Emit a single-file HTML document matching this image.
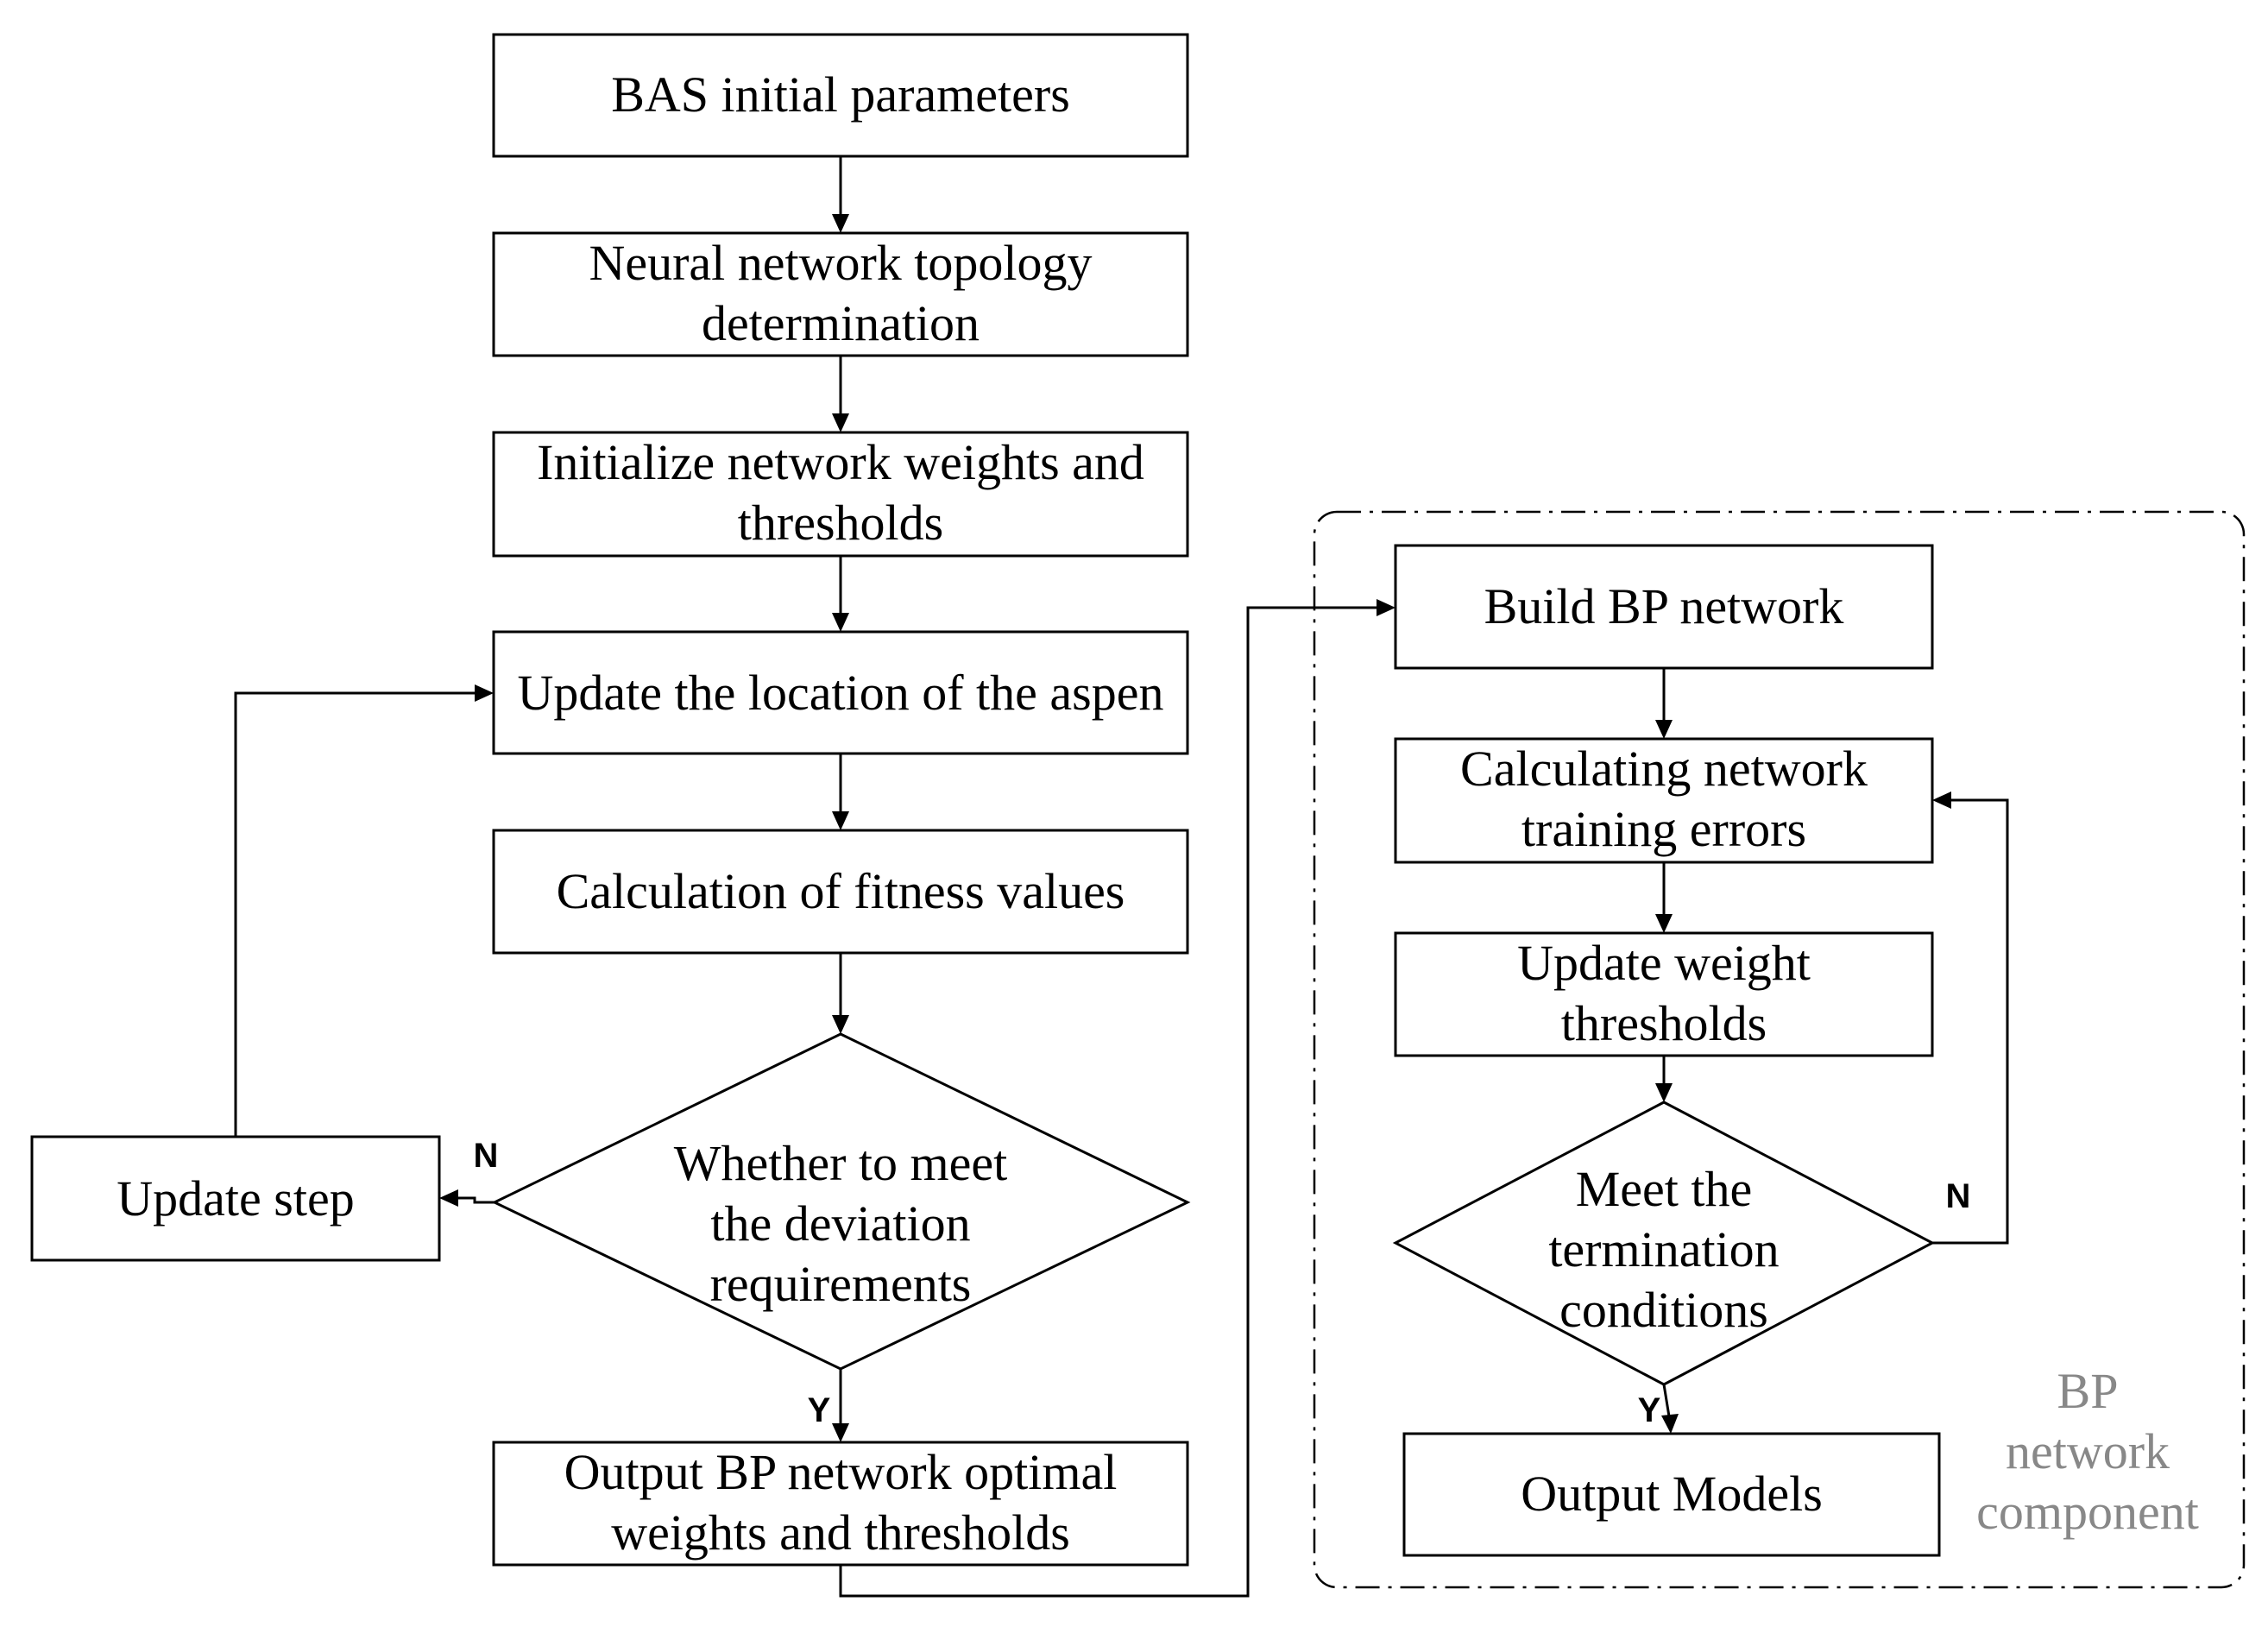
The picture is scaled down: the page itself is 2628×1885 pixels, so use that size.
<!DOCTYPE html>
<html><head><meta charset="utf-8"><style>
html,body{margin:0;padding:0;background:#fff;}
svg{display:block;}
.t{font-family:"Liberation Serif",serif;font-size:58px;fill:#000;text-anchor:middle;}
.l{font-family:"Liberation Sans",sans-serif;font-weight:bold;font-size:40px;fill:#000;text-anchor:middle;}
</style></head><body>
<svg width="2628" height="1885" viewBox="0 0 2628 1885" xmlns="http://www.w3.org/2000/svg">
<g fill="none" stroke="#000" stroke-width="3">
<rect x="572" y="40" width="804" height="141"/>
<rect x="572" y="270" width="804" height="142"/>
<rect x="572" y="501" width="804" height="143"/>
<rect x="572" y="732" width="804" height="141"/>
<rect x="572" y="962" width="804" height="142"/>
<polygon points="974,1198 1376,1393 974,1586 573,1393"/>
<rect x="37" y="1317" width="472" height="143"/>
<rect x="572" y="1671" width="804" height="142"/>
<rect x="1617" y="632" width="622" height="142"/>
<rect x="1617" y="856" width="622" height="143"/>
<rect x="1617" y="1081" width="622" height="142"/>
<polygon points="1928,1277 2239,1440 1928,1604 1617,1440"/>
<rect x="1627" y="1661" width="620" height="141"/>
<rect x="1523" y="593" width="1077" height="1246" rx="26" stroke-width="2.5" stroke-dasharray="28,10,4,10"/>
<line x1="974" y1="181" x2="974" y2="250"/>
<line x1="974" y1="412" x2="974" y2="481"/>
<line x1="974" y1="644" x2="974" y2="712"/>
<line x1="974" y1="873" x2="974" y2="942"/>
<line x1="974" y1="1104" x2="974" y2="1178"/>
<line x1="974" y1="1586" x2="974" y2="1651"/>
<polyline points="573,1393 550,1393 550,1388 530,1388"/>
<polyline points="273,1317 273,803 552,803"/>
<polyline points="974,1813 974,1849 1446,1849 1446,704 1597,704"/>
<line x1="1928" y1="774" x2="1928" y2="836"/>
<line x1="1928" y1="999" x2="1928" y2="1061"/>
<line x1="1928" y1="1223" x2="1928" y2="1257"/>
<line x1="1928" y1="1604" x2="1934" y2="1641"/>
<polyline points="2239,1440 2326,1440 2326,927 2259,927"/>
</g>
<g fill="#000">
<polygon points="974,270 964,248 984,248"/>
<polygon points="974,501 964,479 984,479"/>
<polygon points="974,732 964,710 984,710"/>
<polygon points="974,962 964,940 984,940"/>
<polygon points="974,1198 964,1176 984,1176"/>
<polygon points="974,1671 964,1649 984,1649"/>
<polygon points="509,1388 531,1378 531,1398"/>
<polygon points="572,803 550,793 550,813"/>
<polygon points="1617,704 1595,694 1595,714"/>
<polygon points="1928,856 1918,834 1938,834"/>
<polygon points="1928,1081 1918,1059 1938,1059"/>
<polygon points="1928,1277 1918,1255 1938,1255"/>
<polygon points="1936,1661 1925,1640 1945,1638"/>
<polygon points="2239,927 2261,917 2261,937"/>
</g>
<text class="t" x="974" y="129">BAS initial parameters</text>
<text class="t" x="974" y="324">Neural network topology</text>
<text class="t" x="974" y="394">determination</text>
<text class="t" x="974" y="555">Initialize network weights and</text>
<text class="t" x="974" y="625">thresholds</text>
<text class="t" x="974" y="822">Update the location of the aspen</text>
<text class="t" x="974" y="1052">Calculation of fitness values</text>
<text class="t" x="974" y="1367">Whether to meet</text>
<text class="t" x="974" y="1437">the deviation</text>
<text class="t" x="974" y="1507">requirements</text>
<text class="t" x="273" y="1408">Update step</text>
<text class="t" x="974" y="1725">Output BP network optimal</text>
<text class="t" x="974" y="1795">weights and thresholds</text>
<text class="t" x="1928" y="722">Build BP network</text>
<text class="t" x="1928" y="910">Calculating network</text>
<text class="t" x="1928" y="980">training errors</text>
<text class="t" x="1928" y="1135">Update weight</text>
<text class="t" x="1928" y="1205">thresholds</text>
<text class="t" x="1928" y="1397">Meet the</text>
<text class="t" x="1928" y="1467">termination</text>
<text class="t" x="1928" y="1537">conditions</text>
<text class="t" x="1937" y="1750">Output Models</text>
<text class="t" x="2419" y="1631" style="fill:#888">BP</text>
<text class="t" x="2419" y="1701" style="fill:#888">network</text>
<text class="t" x="2419" y="1771" style="fill:#888">component</text>
<text class="l" x="563" y="1352">N</text>
<text class="l" x="949" y="1647">Y</text>
<text class="l" x="2269" y="1399">N</text>
<text class="l" x="1911" y="1647">Y</text>
</svg>
</body></html>
